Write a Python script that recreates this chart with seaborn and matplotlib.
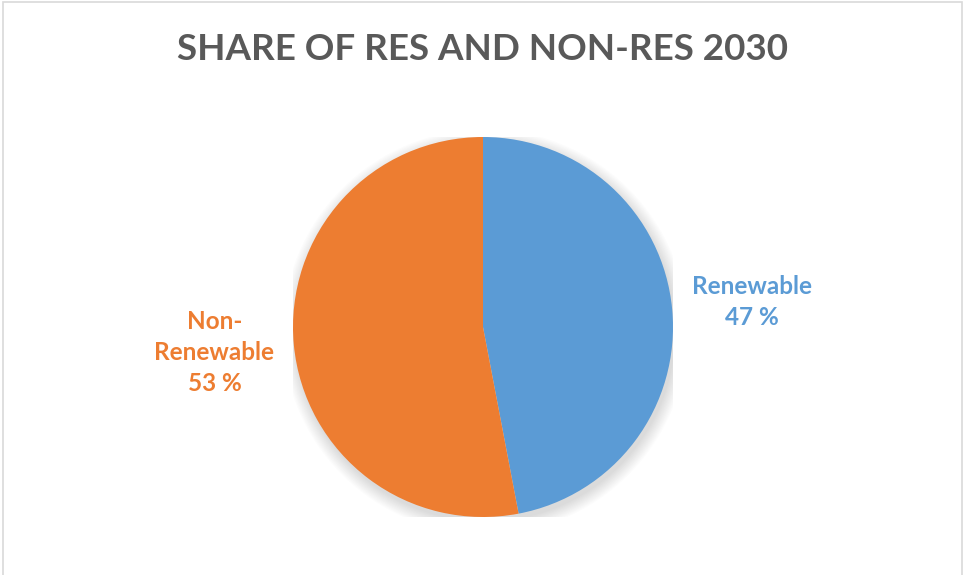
import matplotlib
matplotlib.use("Agg")
import matplotlib.pyplot as plt
from matplotlib.patches import Rectangle, Circle
import seaborn as sns

categories = ["Renewable", "Non-\nRenewable"]
shares = [47, 53]
colors = ["#5B9BD5", "#ED7D31"]
title = "SHARE OF RES AND NON-RES 2030"

sns.set_theme(style="white")
plt.rcParams["font.family"] = ["Lato", "DejaVu Sans"]

W, H = 965, 575
fig = plt.figure(figsize=(W / 100, H / 100), dpi=100)
fig.patch.set_facecolor("white")

# chart frame
fig.patches.append(Rectangle((3 / W, -0.01), (W - 6) / W, 1.0 - 2 / H + 0.01,
                             transform=fig.transFigure, fill=False,
                             edgecolor="#D9D9D9", linewidth=1.2))

cx, cy, r = 483, 575 - 327, 190
ax = fig.add_axes([(cx - r) / W, (cy - r) / H, 2 * r / W, 2 * r / H])

# soft drop shadow under the pie
for k in range(12):
    ax.add_patch(Circle((0.012, -0.025), 1.0 + 0.006 * k, color="black",
                        alpha=0.012, zorder=0, linewidth=0))

labels = [f"{c}\n{v} %" for c, v in zip(categories, shares)]
wedges, texts = ax.pie(shares, colors=sns.color_palette(colors), startangle=90,
                       counterclock=False, labels=labels, labeldistance=1.42,
                       wedgeprops=dict(linewidth=0),
                       textprops=dict(fontsize=17.5, fontweight="bold"))
for t, c in zip(texts, colors):
    t.set_color(c)
    t.set_horizontalalignment("center")
    t.set_verticalalignment("center")
    t.set_multialignment("center")
    t.set_linespacing(1.42)
for w in wedges:
    w.set_zorder(2)
ax.set_xlim(-1, 1)
ax.set_ylim(-1, 1)
ax.axis("off")

fig.text(0.5, 1 - 50 / H, title, ha="center", va="center",
         fontsize=26.5, fontweight="bold", color="#595959")

fig.savefig("out.png", dpi=100, facecolor="white")
